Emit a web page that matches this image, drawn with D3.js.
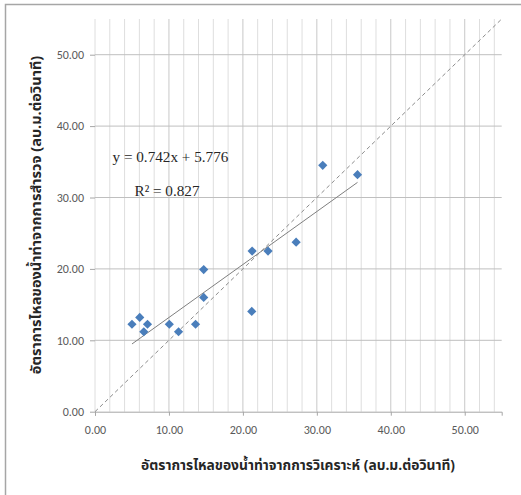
<!DOCTYPE html>
<html>
<head>
<meta charset="utf-8">
<script src="https://cdn.jsdelivr.net/npm/d3@7"></script>
<style>
  html, body { margin: 0; padding: 0; background: #fff; }
  svg { display: block; }
</style>
</head>
<body>
<svg id="chart" width="521" height="495"></svg>
<script>
// ---- data ----
const analysisFlow = [5.0, 6.05, 6.6, 7.1, 10.05, 11.3, 13.6, 14.7, 14.7, 21.2, 21.25, 23.4, 27.2, 30.8, 35.5];
const surveyFlow   = [12.25, 13.2, 11.2, 12.25, 12.25, 11.2, 12.25, 19.9, 16.0, 14.05, 22.5, 22.5, 23.75, 34.5, 33.2];
const xTickValues = [0, 10, 20, 30, 40, 50];
const yTickValues = [0, 10, 20, 30, 40, 50];
const minorXGrid = d3.range(0, 56, 2);
const trendSlope = 0.742;
const trendIntercept = 5.776;
const equationLabel = "y = 0.742x + 5.776";
const r2Label = "R² = 0.827";
const xTitle = "อัตราการไหลของน้ำท่าจากการวิเคราะห์ (ลบ.ม.ต่อวินาที)";
const yTitle = "อัตราการไหลของน้ำท่าจากการสำรวจ (ลบ.ม.ต่อวินาที)";
const axisMax = 55;

// ---- layout ----
const svg = d3.select("#chart");
const plotL = 95, plotR = 501.7, plotT = 19, plotB = 411.7;
const x = d3.scaleLinear().domain([0, axisMax]).range([plotL, plotR]);
const y = d3.scaleLinear().domain([0, axisMax]).range([plotB, plotT]);

// outer frame
svg.append("rect")
  .attr("x", 5.5).attr("y", 4.5)
  .attr("width", 530).attr("height", 510)
  .attr("fill", "#fff").attr("stroke", "#a6a6a6").attr("stroke-width", 1.5);

// vertical minor gridlines
svg.append("g").selectAll("line").data(minorXGrid.filter(d => d > 0)).join("line")
  .attr("x1", d => x(d)).attr("x2", d => x(d))
  .attr("y1", y(axisMax)).attr("y2", y(0))
  .attr("stroke", d => d % 10 === 0 ? "#c8c8c8" : "#dedede")
  .attr("stroke-width", 1);

// left axis line (light)
svg.append("line")
  .attr("x1", x(0)).attr("x2", x(0)).attr("y1", y(axisMax)).attr("y2", y(0))
  .attr("stroke", "#dedede");

// horizontal gridlines
svg.append("g").selectAll("line").data(yTickValues.filter(d => d > 0)).join("line")
  .attr("x1", x(0)).attr("x2", x(axisMax))
  .attr("y1", d => y(d)).attr("y2", d => y(d))
  .attr("stroke", "#bfbfbf").attr("stroke-width", 1);

// x axis
const xAxis = d3.axisBottom(x).tickValues(xTickValues).tickFormat(d3.format(".2f")).tickSize(4).tickPadding(10);
const gx = svg.append("g").attr("transform", `translate(0,${y(0)})`).call(xAxis);
gx.select(".domain").attr("stroke", "#a6a6a6");
gx.selectAll(".tick line").attr("stroke", "#a6a6a6");
gx.selectAll("text").attr("fill", "#595959").style("font-family", "Carlito, Lato, 'Liberation Sans', sans-serif").style("font-size", "12px");

// y axis
const yAxis = d3.axisLeft(y).tickValues(yTickValues).tickFormat(d3.format(".2f")).tickSize(5).tickPadding(6);
const gy = svg.append("g").attr("transform", `translate(${x(0)},0)`).call(yAxis);
gy.select(".domain").remove();
gy.selectAll(".tick line").attr("stroke", "#a6a6a6");
gy.selectAll("text").attr("fill", "#595959").style("font-family", "Carlito, Lato, 'Liberation Sans', sans-serif").style("font-size", "12px");

// 1:1 dashed line
svg.append("line")
  .attr("x1", x(0)).attr("y1", y(0)).attr("x2", x(axisMax)).attr("y2", y(axisMax))
  .attr("stroke", "#8c8c8c").attr("stroke-width", 1).attr("stroke-dasharray", "4,3");

// trendline
const xMin = d3.min(analysisFlow), xMax = d3.max(analysisFlow);
svg.append("line")
  .attr("x1", x(xMin)).attr("y1", y(trendSlope * xMin + trendIntercept))
  .attr("x2", x(xMax)).attr("y2", y(trendSlope * xMax + trendIntercept))
  .attr("stroke", "#7f7f7f").attr("stroke-width", 1);

// points
const pts = analysisFlow.map((v, i) => [v, surveyFlow[i]]);
const r = 4.6;
svg.append("g").selectAll("path").data(pts).join("path")
  .attr("transform", d => `translate(${x(d[0])},${y(d[1])})`)
  .attr("d", `M0,${-r}L${r},0L0,${r}L${-r},0Z`)
  .attr("fill", "#4a7ebb");

// equation labels
svg.append("text").attr("x", 112.5).attr("y", 162)
  .style("font-family", "'Liberation Serif', 'Times New Roman', serif").style("font-size", "15.2px")
  .attr("fill", "#262626").text(equationLabel);
svg.append("text").attr("x", 134.5).attr("y", 196)
  .style("font-family", "'Liberation Serif', 'Times New Roman', serif").style("font-size", "15.2px")
  .attr("fill", "#262626").text(r2Label);

// axis titles
svg.append("text").attr("x", 298).attr("y", 470).attr("text-anchor", "middle")
  .style("font-family", "'Noto Sans Thai', 'Noto Sans', sans-serif").style("font-size", "13.8px").style("font-weight", "bold")
  .attr("fill", "#262626").text(xTitle);
svg.append("text").attr("transform", "translate(41,215) rotate(-90)").attr("text-anchor", "middle")
  .style("font-family", "'Noto Sans Thai', 'Noto Sans', sans-serif").style("font-size", "14.5px").style("font-weight", "bold")
  .attr("fill", "#262626").text(yTitle);
</script>
</body>
</html>
